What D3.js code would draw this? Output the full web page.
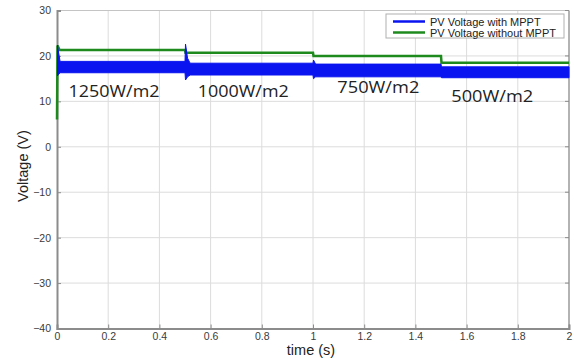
<!DOCTYPE html>
<html>
<head>
<meta charset="utf-8">
<script src="https://cdn.jsdelivr.net/npm/d3@7"></script>
<style>
  body { margin: 0; background: #fff; }
  svg { display: block; font-family: "Liberation Sans", Arial, sans-serif; }
</style>
</head>
<body>
<div id="chart"></div>
<script>
// green trace: PV voltage without MPPT
const greenT = [0, 0.002, 0.01, 0.5, 0.502, 1.0, 1.002, 1.5, 1.502, 2.0];
const greenV = [6, 22.3, 21.3, 21.3, 20.7, 20.7, 20.0, 20.0, 18.5, 18.5];

// blue trace: PV voltage with MPPT, drawn as the ripple envelope
const blueT  = [0.002, 0.004, 0.012, 0.5, 0.502, 0.51, 0.52, 1.0, 1.002, 1.01, 1.5, 1.502, 2.0];
const blueHi = [22.4, 21.5, 18.8, 18.8, 22.6, 19.5, 18.4, 18.4, 19.1, 18.2, 18.2, 17.6, 17.6];
const blueLo = [15.6, 15.8, 16.3, 16.3, 14.7, 15.4, 15.8, 15.8, 15.0, 15.4, 15.4, 15.2, 15.2];

const xTicks = [0, 0.2, 0.4, 0.6, 0.8, 1, 1.2, 1.4, 1.6, 1.8, 2];
const yTicks = [-40, -30, -20, -10, 0, 10, 20, 30];

const irrLabels = ["1250W/m2", "1000W/m2", "750W/m2", "500W/m2"];
const irrT = [0.045, 0.55, 1.095, 1.54];
const irrV = [11, 11, 11.9, 9.8];

const legendNames = ["PV Voltage with MPPT", "PV Voltage without MPPT"];
const blue = "#0a14f0", green = "#1e8a1e";

const width = 574, height = 358;
const plot = {left: 57, right: 569, top: 10.5, bottom: 328.5};

const svg = d3.select("#chart").append("svg")
    .attr("width", width)
    .attr("height", height);

const x = d3.scaleLinear().domain([0, 2]).range([plot.left, plot.right]);
const y = d3.scaleLinear().domain([-40, 30]).range([plot.bottom, plot.top]);

// grid
svg.append("g")
    .selectAll("line")
    .data(xTicks.slice(1, -1))
    .enter().append("line")
        .attr("x1", d => x(d)).attr("x2", d => x(d))
        .attr("y1", plot.top).attr("y2", plot.bottom)
        .attr("stroke", "#dcdcdc");
svg.append("g")
    .selectAll("line")
    .data(yTicks.slice(1, -1))
    .enter().append("line")
        .attr("x1", plot.left).attr("x2", plot.right)
        .attr("y1", d => y(d)).attr("y2", d => y(d))
        .attr("stroke", "#dcdcdc");

// box
svg.append("line").attr("x1", plot.left).attr("x2", plot.right).attr("y1", plot.top).attr("y2", plot.top)
    .attr("stroke", "#c4c4c4").attr("stroke-width", 1.2);
svg.append("line").attr("x1", plot.right).attr("x2", plot.right).attr("y1", plot.top).attr("y2", plot.bottom)
    .attr("stroke", "#9a9a9a").attr("stroke-width", 1.5);

// axes
const xAxis = svg.append("g")
    .attr("transform", `translate(0,${plot.bottom})`)
    .call(d3.axisBottom(x).tickValues(xTicks).tickSize(-4).tickPadding(4).tickFormat(d3.format("")));
const yAxis = svg.append("g")
    .attr("transform", `translate(${plot.left},0)`)
    .call(d3.axisLeft(y).tickValues(yTicks).tickSize(-4).tickPadding(6));
[xAxis, yAxis].forEach(a => {
    a.select(".domain").attr("stroke", "#8c8c8c").attr("stroke-width", 2);
    a.selectAll(".tick line").attr("stroke", "#8c8c8c");
    a.selectAll("text").attr("fill", "#3a3a3a").style("font-size", "10.5px").style("font-family", "Liberation Sans, Arial, sans-serif");
});
// right-side ticks
svg.append("g")
    .selectAll("line")
    .data(yTicks)
    .enter().append("line")
        .attr("x1", plot.right - 4).attr("x2", plot.right)
        .attr("y1", d => y(d)).attr("y2", d => y(d))
        .attr("stroke", "#8c8c8c");

// green line
const greenPts = greenT.map((t, i) => [t, greenV[i]]);
svg.append("path")
    .datum(greenPts)
    .attr("fill", "none")
    .attr("stroke", green)
    .attr("stroke-width", 2.5)
    .attr("d", d3.line().x(d => x(d[0])).y(d => y(d[1])));

// blue band
const bluePts = blueT.map((t, i) => ({t: t, hi: blueHi[i], lo: blueLo[i]}));
svg.append("path")
    .datum(bluePts)
    .attr("fill", blue)
    .attr("stroke", blue)
    .attr("stroke-width", 1)
    .attr("d", d3.area().x(d => x(d.t)).y0(d => y(d.lo)).y1(d => y(d.hi)));

// irradiance labels
svg.selectAll("text.irr")
    .data(irrLabels)
    .enter().append("text")
        .attr("class", "irr")
        .attr("x", (d, i) => x(irrT[i]))
        .attr("y", (d, i) => y(irrV[i]))
        .attr("textLength", (d, i) => i < 2 ? 91 : 82)
        .attr("lengthAdjust", "spacingAndGlyphs")
        .style("font-family", "'Open Sans', sans-serif")
        .style("font-size", "15.5px")
        .style("fill", "#222")
        .text(d => d);

// axis titles
svg.append("text")
    .attr("x", x(1) - 2)
    .attr("y", 355)
    .attr("text-anchor", "middle")
    .style("font-size", "14.5px")
    .style("fill", "#222")
    .text("time (s)");
svg.append("text")
    .attr("transform", "translate(28,166) rotate(-90)")
    .attr("text-anchor", "middle")
    .style("font-size", "14.5px")
    .style("fill", "#222")
    .text("Voltage (V)");

// legend
const lg = svg.append("g").attr("transform", "translate(386,14)");
lg.append("rect")
    .attr("width", 178).attr("height", 24)
    .attr("fill", "#fff")
    .attr("stroke", "#b0b0b0");
const rows = lg.selectAll("g.row")
    .data(legendNames)
    .enter().append("g")
        .attr("transform", (d, i) => `translate(0,${7.5 + i * 11})`);
rows.append("line")
    .attr("x1", 7).attr("x2", 39)
    .attr("stroke", (d, i) => i === 0 ? blue : green)
    .attr("stroke-width", 2.5);
rows.append("text")
    .attr("x", 44).attr("y", 4)
    .style("font-size", "11px")
    .style("fill", "#222")
    .text(d => d);
</script>
</body>
</html>
